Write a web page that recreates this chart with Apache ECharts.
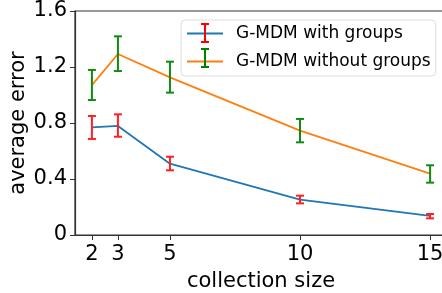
<!DOCTYPE html>
<html><head><meta charset="utf-8">
<script src="https://cdn.jsdelivr.net/npm/echarts@6/dist/echarts.min.js"></script>
<style>html,body{margin:0;padding:0;background:#fff}#c{width:442px;height:293px}</style>
</head><body><div id="c"></div>
<script>
const sizes = [2, 3, 5, 10, 15];
const xTicks = [2, 3, 5, 10, 15];
const yTicks = [0, 0.4, 0.8, 1.2, 1.6];
const withMean = [0.769, 0.779, 0.509, 0.252, 0.136];
const withLow  = [0.686, 0.702, 0.462, 0.226, 0.119];
const withHigh = [0.850, 0.862, 0.559, 0.281, 0.150];
const withoutMean = [1.071, 1.293, 1.126, 0.745, 0.438];
const withoutLow  = [0.964, 1.171, 1.017, 0.662, 0.374];
const withoutHigh = [1.179, 1.419, 1.238, 0.829, 0.498];
const names = ['G-MDM with groups', 'G-MDM without groups'];

const FONT = 'DejaVu Sans';
function errSeries(lo, hi, color, name) {
  return {
    type: 'custom', name: name + ' err', z: 5,
    data: sizes.map((x, i) => [x, lo[i], hi[i]]),
    renderItem: function (params, api) {
      const t = api.coord([api.value(0), api.value(2)]);
      const b = api.coord([api.value(0), api.value(1)]);
      const w = 4;
      return {
        type: 'group', children: [
          {type: 'line', shape: {x1: t[0], y1: t[1], x2: b[0], y2: b[1]}, style: {stroke: color, lineWidth: 2}},
          {type: 'line', shape: {x1: t[0]-w, y1: t[1], x2: t[0]+w, y2: t[1]}, style: {stroke: color, lineWidth: 2}},
          {type: 'line', shape: {x1: b[0]-w, y1: b[1], x2: b[0]+w, y2: b[1]}, style: {stroke: color, lineWidth: 2}}
        ]
      };
    }
  };
}
function legendBar(cx, cy, color) {
  return [
    {type: 'line', shape: {x1: cx, y1: cy-9, x2: cx, y2: cy+9}, style: {stroke: color, lineWidth: 2}, z: 100},
    {type: 'line', shape: {x1: cx-4, y1: cy-9, x2: cx+4, y2: cy-9}, style: {stroke: color, lineWidth: 2}, z: 100},
    {type: 'line', shape: {x1: cx-4, y1: cy+9, x2: cx+4, y2: cy+9}, style: {stroke: color, lineWidth: 2}, z: 100}
  ];
}
const chart = echarts.init(document.getElementById('c'), null, {renderer: 'canvas'});
chart.setOption({
  animation: false,
  textStyle: {fontFamily: FONT},
  grid: {left: 75, top: 11, width: 372, bottom: 58, show: true, borderColor: '#333', borderWidth: 1.2,
    containLabel: false, outerBoundsMode: 'none'},
  xAxis: {
    type: 'value', min: 1.35, max: 15.65,
    name: 'collection size', nameLocation: 'middle', nameGap: 36, nameMoveOverlap: false,
    nameTextStyle: {fontSize: 21, color: '#000', fontFamily: FONT},
    axisLine: {show: true, lineStyle: {color: '#333', width: 1.2}},
    axisTick: {show: true, customValues: xTicks, length: 5, lineStyle: {color: '#333'}},
    axisLabel: {customValues: xTicks, fontSize: 21, color: '#000', margin: 9, fontFamily: FONT},
    splitLine: {show: false}
  },
  yAxis: {
    type: 'value', min: 0, max: 1.6, interval: 0.4,
    name: 'average error', nameLocation: 'middle', nameGap: 46, nameRotate: 90, nameMoveOverlap: false,
    nameTextStyle: {fontSize: 21, color: '#000', fontFamily: FONT},
    axisLine: {show: true, lineStyle: {color: '#333', width: 1.2}},
    axisTick: {show: true, length: 5, lineStyle: {color: '#333'}},
    axisLabel: {fontSize: 21, color: '#000', margin: 8, fontFamily: FONT,
      formatter: v => (v === 0 ? '0' : v.toFixed(1))},
    splitLine: {show: false}
  },
  legend: {
    left: 181, top: 20, orient: 'vertical',
    data: names,
    itemWidth: 36, itemHeight: 14, itemGap: 11,
    padding: [5, 5, 6, 6],
    backgroundColor: '#fff', borderColor: '#ddd', borderWidth: 1, borderRadius: 4,
    textStyle: {fontSize: 17, color: '#000', fontFamily: FONT, lineHeight: 14, padding: [0, 0, 0, 8]},
    icon: 'path://M0,6 L36,6 L36,8 L0,8 Z'
  },
  graphic: [].concat(legendBar(205, 33, '#ff0000'), legendBar(205, 58, '#008000')),
  series: [
    {type: 'line', name: names[0], data: sizes.map((x, i) => [x, withMean[i]]), symbol: 'none',
      lineStyle: {color: '#1f77b4', width: 1.8}, itemStyle: {color: '#1f77b4'}, z: 3},
    {type: 'line', name: names[1], data: sizes.map((x, i) => [x, withoutMean[i]]), symbol: 'none',
      lineStyle: {color: '#ff7f0e', width: 1.8}, itemStyle: {color: '#ff7f0e'}, z: 3},
    errSeries(withLow, withHigh, '#ff2020', names[0]),
    errSeries(withoutLow, withoutHigh, '#108a10', names[1])
  ]
});
</script></body></html>
